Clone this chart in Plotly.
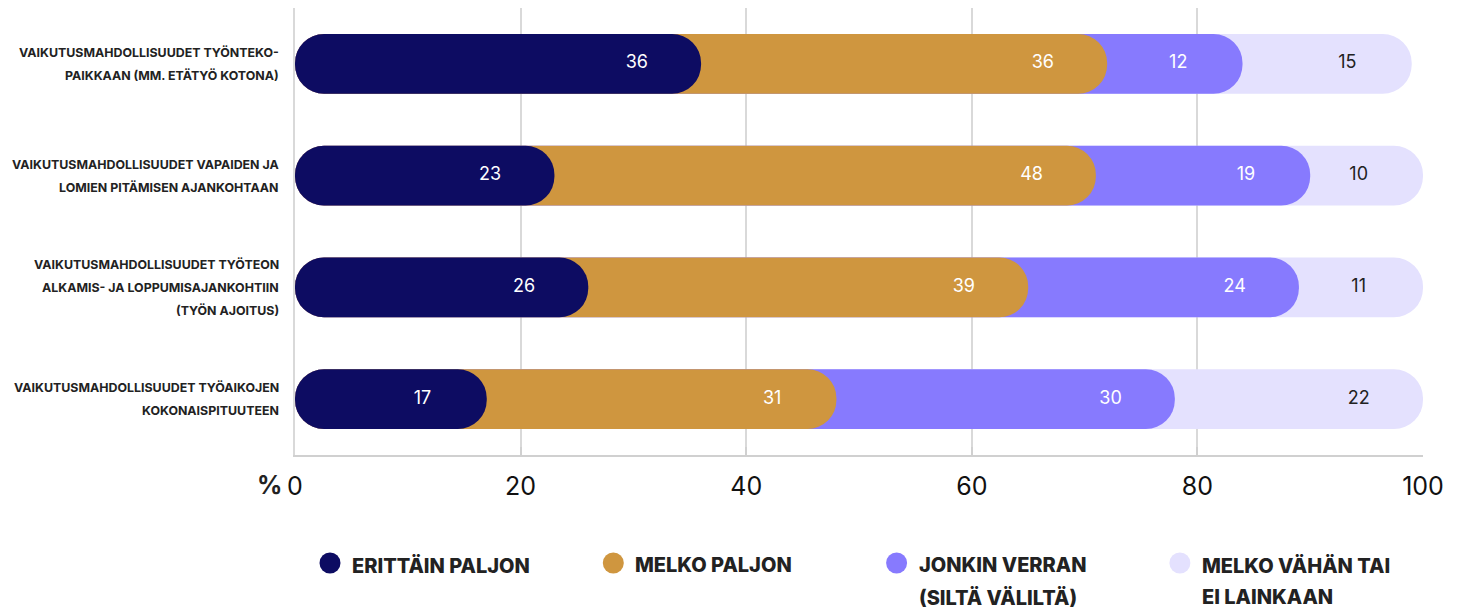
import plotly.graph_objects as go

categories = [
    "VAIKUTUSMAHDOLLISUUDET TYÖNTEKO-<br>PAIKKAAN (MM. ETÄTYÖ KOTONA)",
    "VAIKUTUSMAHDOLLISUUDET VAPAIDEN JA<br>LOMIEN PITÄMISEN AJANKOHTAAN",
    "VAIKUTUSMAHDOLLISUUDET TYÖTEON<br>ALKAMIS- JA LOPPUMISAJANKOHTIIN<br>(TYÖN AJOITUS)",
    "VAIKUTUSMAHDOLLISUUDET TYÖAIKOJEN<br>KOKONAISPITUUTEEN",
]
series_names = [
    "ERITTÄIN PALJON",
    "MELKO PALJON",
    "JONKIN VERRAN<br>(SILTÄ VÄLILTÄ)",
    "MELKO VÄHÄN TAI<br>EI LAINKAAN",
]
erittain_paljon = [36, 23, 26, 17]
melko_paljon = [36, 48, 39, 31]
jonkin_verran = [12, 19, 24, 30]
melko_vahan = [15, 10, 11, 22]
x_ticks = [0, 20, 40, 60, 80, 100]

series = [erittain_paljon, melko_paljon, jonkin_verran, melko_vahan]
colors = ["#0D0C62", "#CF963F", "#877AFE", "#E4E1FE"]
text_colors = ["#FFFFFF", "#FFFFFF", "#FFFFFF", "#222222"]

# cumulative ends
cums = []
run = [0] * len(categories)
for s in series:
    run = [a + b for a, b in zip(run, s)]
    cums.append(run)

fig = go.Figure()
ids = list(range(len(categories)))

# draw from outermost to innermost so rounded ends overlap
for i in reversed(range(len(series))):
    fig.add_trace(go.Bar(
        y=ids, x=cums[i], base=0, orientation="h", name=series_names[i],
        marker=dict(color=colors[i], cornerradius=30, line=dict(width=0)),
        width=0.536, showlegend=False, hoverinfo="skip",
    ))

label_offset = 5.7
for i in range(len(series)):
    fig.add_trace(go.Scatter(
        y=ids, x=[c - label_offset for c in cums[i]], mode="text",
        text=[str(v) for v in series[i]],
        textfont=dict(family="Inter", size=18, color=text_colors[i]),
        textposition="middle center", showlegend=False, hoverinfo="skip",
    ))

# plot area geometry (px) used to place layout elements
PLOT_W, PLOT_H = 1128, 447

annotations = []
shapes = []
line_gap = 23
for idx, cat in enumerate(categories):
    lines = cat.split("<br>")
    n = len(lines)
    for j, ln in enumerate(lines):
        annotations.append(dict(
            xref="paper", yref="y", x=0, y=idx, xanchor="right", yanchor="middle",
            xshift=-14, yshift=((n - 1) / 2 - j) * line_gap,
            text=ln, showarrow=False,
            font=dict(family="Inter", size=12.4, color="#222222", weight=700),
        ))
annotations.append(dict(
    xref="paper", yref="paper", x=0, y=0, xanchor="right", yanchor="middle",
    xshift=-11, yshift=-30, text="%", showarrow=False,
    font=dict(family="Inter", size=25, color="#222222", weight=700),
))

# custom legend (symbol aligned with first line, wide line spacing)
leg_x0, leg_step, leg_y = 35, 283.3, -108   # px relative to plot origin (left, bottom)
leg_line_gap = 32
for i, name in enumerate(series_names):
    cx = leg_x0 + i * leg_step
    shapes.append(dict(
        type="circle", xref="paper", yref="paper",
        xsizemode="pixel", ysizemode="pixel",
        xanchor=cx / PLOT_W, yanchor=leg_y / PLOT_H,
        x0=-10.5, x1=10.5, y0=-10.5, y1=10.5,
        fillcolor=colors[i], line=dict(width=0),
    ))
    for j, ln in enumerate(name.split("<br>")):
        annotations.append(dict(
            xref="paper", yref="paper", x=(cx + 20) / PLOT_W, y=leg_y / PLOT_H,
            xanchor="left", yanchor="middle", yshift=-2 - j * leg_line_gap,
            text=ln, showarrow=False,
            font=dict(family="Inter", size=20, color="#222222", weight=800),
        ))

fig.update_layout(
    width=1450, height=605,
    margin=dict(l=287, r=35, t=0, b=158),
    barmode="overlay",
    plot_bgcolor="white", paper_bgcolor="white",
    annotations=annotations, shapes=shapes,
    showlegend=False,
    xaxis=dict(
        range=[0, 100], tickvals=x_ticks, showgrid=True, gridcolor="#D9D9D9", gridwidth=2,
        showline=True, linecolor="#D0D0D0", linewidth=2,
        ticks="inside", ticklen=8, tickcolor="#D0D0D0", tickwidth=2,
        tickfont=dict(family="Inter", size=25, color="#111111"),
        ticklabelstandoff=8, zeroline=False, fixedrange=True,
    ),
    yaxis=dict(
        range=[3.5, -0.5], showticklabels=False, showgrid=False,
        showline=True, linecolor="#D9D9D9", linewidth=2, zeroline=False, ticks="",
    ),
)

fig.write_html("out.html")
